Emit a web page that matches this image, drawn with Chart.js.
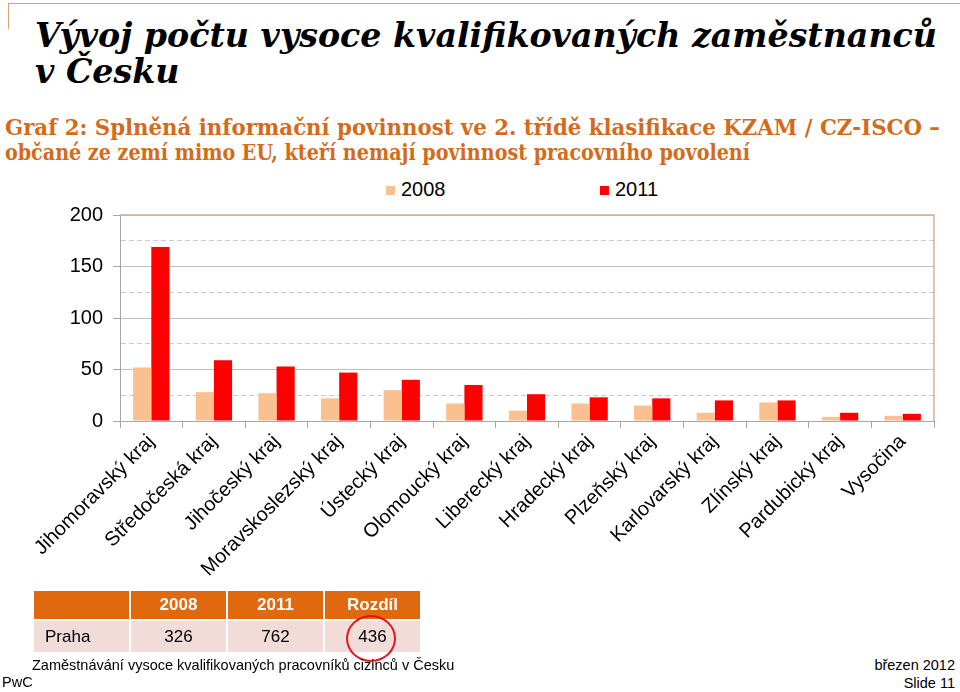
<!DOCTYPE html>
<html>
<head>
<meta charset="utf-8">
<script src="https://cdn.jsdelivr.net/npm/chart.js@4.4.1/dist/chart.umd.min.js"></script>
<style>
  html, body { margin:0; padding:0; background:#fff; }
  body { width:960px; height:692px; position:relative; overflow:hidden; font-family:"Liberation Sans", Arial, sans-serif; }
  .abs { position:absolute; white-space:nowrap; }
  .title { font-family:"DejaVu Serif", serif; font-weight:bold; font-style:italic; font-size:34px; line-height:36px; color:#000; transform-origin:0 0; }
  .sub { font-family:"DejaVu Serif", serif; font-weight:bold; font-size:22px; line-height:25px; color:#D46B1A; transform-origin:0 0; }
  #chartBox { position:absolute; left:0; top:193px; width:960px; height:402px; }
  .leg { position:absolute; top:178px; font-size:20px; line-height:22px; color:#000; }
  .leg span.box { display:inline-block; width:9px; height:9px; margin-right:6px; vertical-align:1px; }
  table.tbl { position:absolute; left:32px; top:589px; border-collapse:collapse; font-size:17px; table-layout:fixed; width:390px; }
  table.tbl td { border:2px solid #fff; padding:0; text-align:center; }
  table.tbl tr.h td { background:#E0680F; color:#fff; font-weight:bold; height:28px; }
  table.tbl tr.r td { background:#F2DCDA; color:#000; height:31px; }
  .foot { font-size:14.5px; line-height:17px; color:#000; }
</style>
</head>
<body>
<div class="abs" style="left:8px; top:3px; width:952px; height:0; border-top:1.5px solid #DDA46A;"></div>
<div class="abs" style="left:8px; top:3px; width:0; height:26px; border-left:1.5px solid #DDA46A;"></div>

<div id="t1" class="abs title" style="left:35px; top:17px;">Vývoj počtu vysoce kvalifikovaných zaměstnanců</div>
<div id="t2" class="abs title" style="left:35px; top:53px;">v Česku</div>
<div id="s1" class="abs sub" style="left:5px; top:115px;">Graf 2: Splněná informační povinnost ve 2. třídě klasifikace KZAM / CZ-ISCO –</div>
<div id="s2" class="abs sub" style="left:5px; top:140px;">občané ze zemí mimo EU, kteří nemají povinnost pracovního povolení</div>

<div id="leg0" class="leg" style="left:386px;"></div>
<div id="leg1" class="leg" style="left:600px;"></div>

<div id="chartBox"><canvas id="c"></canvas></div>

<table class="tbl" id="tbl"></table>
<div class="abs" style="left:346px; top:615px; width:46px; height:43px; border:2.5px solid #E8141B; border-radius:50%;"></div>

<div class="abs foot" style="left:32px; top:657px;">Zaměstnávání vysoce kvalifikovaných pracovníků cizinců v Česku</div>
<div class="abs foot" style="left:2px; top:674px;">PwC</div>
<div class="abs foot" style="right:5px; top:657px; text-align:right;">březen 2012</div>
<div class="abs foot" style="right:5px; top:675px; text-align:right;">Slide 11</div>

<script>
// ---- data ----
const regions = ['Jihomoravský kraj','Středočeská kraj','Jihočeský kraj','Moravskoslezský kraj','Ústecký kraj','Olomoucký kraj','Liberecký kraj','Hradecký kraj','Plzeňský kraj','Karlovarský kraj','Zlínský kraj','Pardubický kraj','Vysočina'];
const values2008 = [52, 28, 27, 22, 30, 17, 10, 17, 15, 8, 18, 4, 5];
const values2011 = [169, 59, 53, 47, 40, 35, 26, 23, 22, 20, 20, 8, 7];
const seriesNames = ['2008', '2011'];
const yTicks = [0, 50, 100, 150, 200];
const tableHeader = ['', '2008', '2011', 'Rozdíl'];
const tablePraha = ['Praha', '326', '762', '436'];

const colors = ['#FAC090', '#FF0000'];

function fitWidth(id, target) {
  const el = document.getElementById(id);
  const w = el.getBoundingClientRect().width;
  el.style.transform = 'scaleX(' + (target / w) + ')';
}
fitWidth('t1', 902);
fitWidth('s1', 935);
fitWidth('s2', 745);
document.getElementById('t2').style.transform = document.getElementById('t1').style.transform;

seriesNames.forEach((n, i) => {
  document.getElementById('leg' + i).innerHTML = '<span class="box" style="background:' + colors[i] + '"></span>' + n;
});

const tbl = document.getElementById('tbl');
[[tableHeader, 'h'], [tablePraha, 'r']].forEach(([row, cls]) => {
  const tr = document.createElement('tr'); tr.className = cls;
  row.forEach((v, i) => {
    const td = document.createElement('td');
    td.textContent = v;
    if (i === 0 && cls === 'r') { td.style.textAlign = 'left'; td.style.paddingLeft = '11px'; }
    tr.appendChild(td);
  });
  tbl.appendChild(tr);
});

const frame = {
  id: 'frame',
  afterDatasetsDraw(chart) {
    const {ctx, chartArea: a} = chart;
    ctx.save();
    ctx.strokeStyle = '#D2B48C';
    ctx.lineWidth = 1.5;
    ctx.beginPath();
    ctx.moveTo(a.left, a.top);
    ctx.lineTo(a.right, a.top);
    ctx.lineTo(a.right, a.bottom);
    ctx.stroke();
    ctx.restore();
  }
};

new Chart(document.getElementById('c'), {
  type: 'bar',
  data: {
    labels: regions,
    datasets: [
      { label: seriesNames[0], data: values2008, backgroundColor: colors[0] },
      { label: seriesNames[1], data: values2011, backgroundColor: colors[1] }
    ]
  },
  options: {
    responsive: true,
    maintainAspectRatio: false,
    animation: false,
    events: [],
    layout: { padding: { top: 7, right: 26, left: 0, bottom: 0 } },
    datasets: { bar: { barPercentage: 1.0, categoryPercentage: 0.58 } },
    plugins: { legend: { display: false }, tooltip: { enabled: false } },
    scales: {
      x: {
        afterFit(s) { s.height = 174; },
        grid: { drawOnChartArea: false, offset: true, color: '#A6A6A6', tickLength: 7, tickColor: '#A6A6A6' },
        border: { color: '#A6A6A6', width: 1 },
        ticks: { autoSkip: false, maxRotation: 45, minRotation: 45, color: '#000', padding: 2,
                 font: { family: '"Liberation Sans", Arial, sans-serif', size: 20 } }
      },
      y: {
        min: 0, max: 200,
        afterFit(s) { s.width = 120; },
        afterBuildTicks(s) {
          const t = [];
          for (let v = 0; v <= 200; v += 25) t.push({ value: v });
          s.ticks = t;
        },
        grid: {
          color: (ctx) => (ctx.tick && ctx.tick.value % 50 !== 0) ? '#C5CCD6' : '#BFBFBF',
          tickLength: 7,
          tickColor: (ctx) => (ctx.tick && ctx.tick.value % 50 !== 0) ? 'rgba(0,0,0,0)' : '#A6A6A6',
          lineWidth: 1
        },
        border: {
          color: '#A6A6A6',
          dash: (ctx) => (ctx.tick && ctx.tick.value % 50 !== 0) ? [5, 3] : []
        },
        ticks: {
          autoSkip: false,
          color: '#000', padding: 10,
          font: { family: '"Liberation Sans", Arial, sans-serif', size: 20 },
          callback: (v) => yTicks.includes(v) ? String(v) : ''
        }
      }
    }
  },
  plugins: [frame]
});
</script>
</body>
</html>
